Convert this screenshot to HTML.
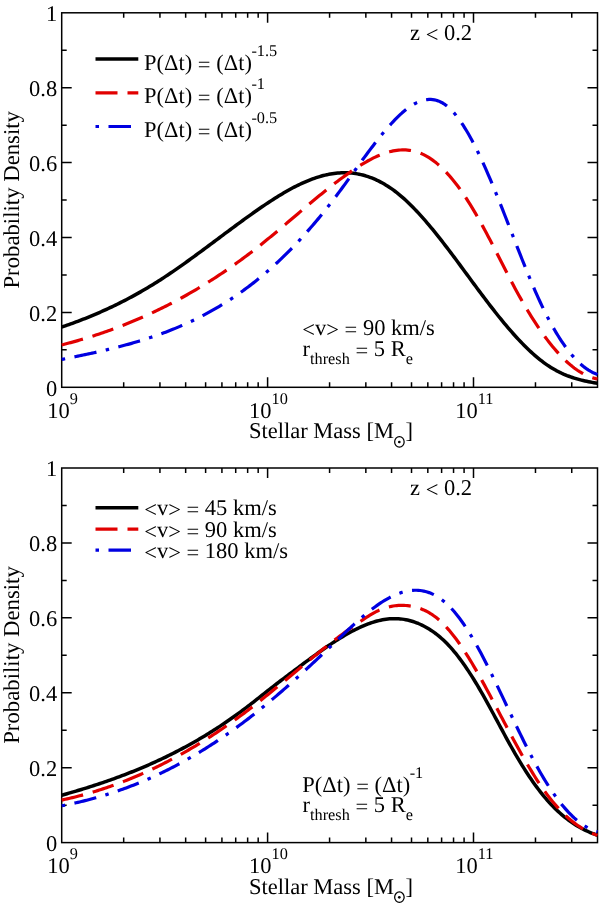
<!DOCTYPE html>
<html><head><meta charset="utf-8"><style>
html,body{margin:0;padding:0;background:#fff;width:600px;height:906px;overflow:hidden}
svg{display:block;will-change:transform}
text{font-family:"Liberation Serif", serif;fill:#000;text-rendering:geometricPrecision}
.sh{baseline-shift:-2.3px}
</style></head><body>
<svg width="600" height="906" viewBox="0 0 600 906">
<rect x="61.7" y="12.8" width="535.80" height="374.50" fill="none" stroke="#000" stroke-width="1.5"/>
<path d="M61.7,349.85h5 M597.5,349.85h-5 M61.7,312.40h10 M597.5,312.40h-10 M61.7,274.95h5 M597.5,274.95h-5 M61.7,237.50h10 M597.5,237.50h-10 M61.7,200.05h5 M597.5,200.05h-5 M61.7,162.60h10 M597.5,162.60h-10 M61.7,125.15h5 M597.5,125.15h-5 M61.7,87.70h10 M597.5,87.70h-10 M61.7,50.25h5 M597.5,50.25h-5 M123.68,387.3v-5 M123.68,12.8v5 M159.94,387.3v-5 M159.94,12.8v5 M185.66,387.3v-5 M185.66,12.8v5 M205.62,387.3v-5 M205.62,12.8v5 M221.92,387.3v-5 M221.92,12.8v5 M235.71,387.3v-5 M235.71,12.8v5 M247.65,387.3v-5 M247.65,12.8v5 M258.18,387.3v-5 M258.18,12.8v5 M267.60,387.3v-10 M267.60,12.8v10 M329.58,387.3v-5 M329.58,12.8v5 M365.84,387.3v-5 M365.84,12.8v5 M391.56,387.3v-5 M391.56,12.8v5 M411.52,387.3v-5 M411.52,12.8v5 M427.82,387.3v-5 M427.82,12.8v5 M441.61,387.3v-5 M441.61,12.8v5 M453.55,387.3v-5 M453.55,12.8v5 M464.08,387.3v-5 M464.08,12.8v5 M473.50,387.3v-10 M473.50,12.8v10 M535.48,387.3v-5 M535.48,12.8v5 M571.74,387.3v-5 M571.74,12.8v5" stroke="#000" stroke-width="1.5" fill="none"/>
<text x="57.2" y="395.70" text-anchor="end" font-size="22.5">0</text>
<text x="57.2" y="320.80" text-anchor="end" font-size="22.5">0.2</text>
<text x="57.2" y="245.90" text-anchor="end" font-size="22.5">0.4</text>
<text x="57.2" y="171.00" text-anchor="end" font-size="22.5">0.6</text>
<text x="57.2" y="96.10" text-anchor="end" font-size="22.5">0.8</text>
<text x="57.2" y="21.20" text-anchor="end" font-size="22.5">1</text>
<text x="62.50" y="417.50" text-anchor="middle" font-size="22.5">10<tspan dy="-13.5" font-size="16.3">9</tspan></text>
<text x="268.40" y="417.50" text-anchor="middle" font-size="22.5">10<tspan dy="-13.5" font-size="16.3">10</tspan></text>
<text x="474.30" y="417.50" text-anchor="middle" font-size="22.5">10<tspan dy="-13.5" font-size="16.3">11</tspan></text>
<text x="249" y="438.30" font-size="22.5">Stellar Mass [M</text>
<text x="405.6" y="438.30" font-size="22.5">]</text>
<ellipse cx="399.4" cy="441.90" rx="4.75" ry="5.25" fill="none" stroke="#000" stroke-width="1.25"/>
<circle cx="399.3" cy="442.00" r="1.35" fill="#000"/>
<text transform="translate(19.2,199.80) rotate(-90)" text-anchor="middle" font-size="22.75">Probability Density</text>
<text x="410" y="40.00" font-size="22.5">z <tspan class="sh">&lt;</tspan> 0.2</text>
<rect x="61.7" y="468.0" width="535.80" height="374.60" fill="none" stroke="#000" stroke-width="1.5"/>
<path d="M61.7,805.14h5 M597.5,805.14h-5 M61.7,767.68h10 M597.5,767.68h-10 M61.7,730.22h5 M597.5,730.22h-5 M61.7,692.76h10 M597.5,692.76h-10 M61.7,655.30h5 M597.5,655.30h-5 M61.7,617.84h10 M597.5,617.84h-10 M61.7,580.38h5 M597.5,580.38h-5 M61.7,542.92h10 M597.5,542.92h-10 M61.7,505.46h5 M597.5,505.46h-5 M123.68,842.6v-5 M123.68,468.0v5 M159.94,842.6v-5 M159.94,468.0v5 M185.66,842.6v-5 M185.66,468.0v5 M205.62,842.6v-5 M205.62,468.0v5 M221.92,842.6v-5 M221.92,468.0v5 M235.71,842.6v-5 M235.71,468.0v5 M247.65,842.6v-5 M247.65,468.0v5 M258.18,842.6v-5 M258.18,468.0v5 M267.60,842.6v-10 M267.60,468.0v10 M329.58,842.6v-5 M329.58,468.0v5 M365.84,842.6v-5 M365.84,468.0v5 M391.56,842.6v-5 M391.56,468.0v5 M411.52,842.6v-5 M411.52,468.0v5 M427.82,842.6v-5 M427.82,468.0v5 M441.61,842.6v-5 M441.61,468.0v5 M453.55,842.6v-5 M453.55,468.0v5 M464.08,842.6v-5 M464.08,468.0v5 M473.50,842.6v-10 M473.50,468.0v10 M535.48,842.6v-5 M535.48,468.0v5 M571.74,842.6v-5 M571.74,468.0v5" stroke="#000" stroke-width="1.5" fill="none"/>
<text x="57.2" y="851.00" text-anchor="end" font-size="22.5">0</text>
<text x="57.2" y="776.08" text-anchor="end" font-size="22.5">0.2</text>
<text x="57.2" y="701.16" text-anchor="end" font-size="22.5">0.4</text>
<text x="57.2" y="626.24" text-anchor="end" font-size="22.5">0.6</text>
<text x="57.2" y="551.32" text-anchor="end" font-size="22.5">0.8</text>
<text x="57.2" y="476.40" text-anchor="end" font-size="22.5">1</text>
<text x="62.50" y="872.80" text-anchor="middle" font-size="22.5">10<tspan dy="-13.5" font-size="16.3">9</tspan></text>
<text x="268.40" y="872.80" text-anchor="middle" font-size="22.5">10<tspan dy="-13.5" font-size="16.3">10</tspan></text>
<text x="474.30" y="872.80" text-anchor="middle" font-size="22.5">10<tspan dy="-13.5" font-size="16.3">11</tspan></text>
<text x="249" y="893.60" font-size="22.5">Stellar Mass [M</text>
<text x="405.6" y="893.60" font-size="22.5">]</text>
<ellipse cx="399.4" cy="897.20" rx="4.75" ry="5.25" fill="none" stroke="#000" stroke-width="1.25"/>
<circle cx="399.3" cy="897.30" r="1.35" fill="#000"/>
<text transform="translate(19.2,655.00) rotate(-90)" text-anchor="middle" font-size="22.75">Probability Density</text>
<text x="410" y="495.20" font-size="22.5">z <tspan class="sh">&lt;</tspan> 0.2</text>
<path d="M61.70,327.07 L63.49,326.46 L65.28,325.84 L67.08,325.22 L68.87,324.59 L70.66,323.95 L72.45,323.30 L74.24,322.64 L76.04,321.98 L77.83,321.31 L79.62,320.62 L81.41,319.93 L83.20,319.24 L85.00,318.53 L86.79,317.81 L88.58,317.09 L90.37,316.36 L92.16,315.61 L93.96,314.86 L95.75,314.10 L97.54,313.33 L99.33,312.55 L101.12,311.76 L102.92,310.97 L104.71,310.16 L106.50,309.34 L108.29,308.51 L110.08,307.68 L111.88,306.83 L113.67,305.97 L115.46,305.11 L117.25,304.23 L119.04,303.34 L120.84,302.44 L122.63,301.53 L124.42,300.62 L126.21,299.69 L128.00,298.75 L129.79,297.80 L131.59,296.84 L133.38,295.86 L135.17,294.88 L136.96,293.89 L138.75,292.88 L140.55,291.86 L142.34,290.84 L144.13,289.80 L145.92,288.74 L147.71,287.68 L149.51,286.61 L151.30,285.52 L153.09,284.42 L154.88,283.32 L156.67,282.19 L158.47,281.06 L160.26,279.91 L162.05,278.76 L163.84,277.59 L165.63,276.41 L167.43,275.22 L169.22,274.02 L171.01,272.81 L172.80,271.59 L174.59,270.36 L176.39,269.12 L178.18,267.87 L179.97,266.62 L181.76,265.36 L183.55,264.09 L185.35,262.81 L187.14,261.53 L188.93,260.24 L190.72,258.95 L192.51,257.64 L194.31,256.34 L196.10,255.03 L197.89,253.71 L199.68,252.40 L201.47,251.07 L203.27,249.75 L205.06,248.42 L206.85,247.09 L208.64,245.75 L210.43,244.42 L212.23,243.08 L214.02,241.74 L215.81,240.41 L217.60,239.07 L219.39,237.73 L221.19,236.39 L222.98,235.05 L224.77,233.72 L226.56,232.38 L228.35,231.05 L230.15,229.72 L231.94,228.39 L233.73,227.07 L235.52,225.74 L237.31,224.42 L239.11,223.11 L240.90,221.80 L242.69,220.50 L244.48,219.20 L246.27,217.90 L248.07,216.61 L249.86,215.33 L251.65,214.06 L253.44,212.79 L255.23,211.53 L257.03,210.27 L258.82,209.03 L260.61,207.79 L262.40,206.56 L264.19,205.35 L265.98,204.14 L267.78,202.95 L269.57,201.76 L271.36,200.59 L273.15,199.44 L274.94,198.30 L276.74,197.17 L278.53,196.06 L280.32,194.96 L282.11,193.89 L283.90,192.83 L285.70,191.79 L287.49,190.77 L289.28,189.77 L291.07,188.79 L292.86,187.83 L294.66,186.89 L296.45,185.98 L298.24,185.09 L300.03,184.23 L301.82,183.39 L303.62,182.58 L305.41,181.79 L307.20,181.03 L308.99,180.30 L310.78,179.60 L312.58,178.93 L314.37,178.29 L316.16,177.68 L317.95,177.10 L319.74,176.56 L321.54,176.04 L323.33,175.56 L325.12,175.12 L326.91,174.71 L328.70,174.34 L330.50,174.01 L332.29,173.71 L334.08,173.45 L335.87,173.23 L337.66,173.05 L339.46,172.91 L341.25,172.81 L343.04,172.76 L344.83,172.74 L346.62,172.77 L348.42,172.85 L350.21,172.97 L352.00,173.13 L353.79,173.34 L355.58,173.59 L357.38,173.89 L359.17,174.24 L360.96,174.63 L362.75,175.07 L364.54,175.55 L366.34,176.09 L368.13,176.67 L369.92,177.29 L371.71,177.97 L373.50,178.69 L375.30,179.47 L377.09,180.29 L378.88,181.16 L380.67,182.08 L382.46,183.05 L384.26,184.07 L386.05,185.14 L387.84,186.26 L389.63,187.44 L391.42,188.66 L393.22,189.94 L395.01,191.26 L396.80,192.64 L398.59,194.07 L400.38,195.56 L402.17,197.09 L403.97,198.67 L405.76,200.30 L407.55,201.97 L409.34,203.69 L411.13,205.45 L412.93,207.26 L414.72,209.10 L416.51,210.98 L418.30,212.90 L420.09,214.86 L421.89,216.85 L423.68,218.88 L425.47,220.93 L427.26,223.02 L429.05,225.14 L430.85,227.29 L432.64,229.46 L434.43,231.66 L436.22,233.89 L438.01,236.13 L439.81,238.40 L441.60,240.69 L443.39,243.00 L445.18,245.33 L446.97,247.67 L448.77,250.03 L450.56,252.40 L452.35,254.78 L454.14,257.17 L455.93,259.58 L457.73,261.99 L459.52,264.41 L461.31,266.84 L463.10,269.27 L464.89,271.70 L466.69,274.13 L468.48,276.57 L470.27,279.00 L472.06,281.43 L473.85,283.86 L475.65,286.29 L477.44,288.70 L479.23,291.11 L481.02,293.51 L482.81,295.90 L484.61,298.28 L486.40,300.65 L488.19,303.00 L489.98,305.33 L491.77,307.65 L493.57,309.95 L495.36,312.23 L497.15,314.49 L498.94,316.73 L500.73,318.95 L502.53,321.14 L504.32,323.31 L506.11,325.46 L507.90,327.57 L509.69,329.66 L511.49,331.72 L513.28,333.75 L515.07,335.75 L516.86,337.71 L518.65,339.65 L520.45,341.54 L522.24,343.41 L524.03,345.23 L525.82,347.02 L527.61,348.77 L529.41,350.48 L531.20,352.15 L532.99,353.77 L534.78,355.35 L536.57,356.89 L538.36,358.38 L540.16,359.83 L541.95,361.23 L543.74,362.58 L545.53,363.88 L547.32,365.13 L549.12,366.33 L550.91,367.47 L552.70,368.56 L554.49,369.60 L556.28,370.59 L558.08,371.53 L559.87,372.43 L561.66,373.28 L563.45,374.09 L565.24,374.85 L567.04,375.58 L568.83,376.26 L570.62,376.91 L572.41,377.52 L574.20,378.10 L576.00,378.65 L577.79,379.16 L579.58,379.65 L581.37,380.11 L583.16,380.54 L584.96,380.95 L586.75,381.33 L588.54,381.70 L590.33,382.04 L592.12,382.36 L593.92,382.67 L595.71,382.96 L597.50,383.24" fill="none" stroke="#000" stroke-width="3.5" stroke-linejoin="round"/>
<path d="M61.70,344.94 L63.49,344.48 L65.28,344.02 L67.08,343.55 L68.87,343.07 L70.66,342.59 L72.45,342.10 L74.24,341.60 L76.04,341.10 L77.83,340.59 L79.62,340.07 L81.41,339.55 L83.20,339.02 L85.00,338.48 L86.79,337.93 L88.58,337.38 L90.37,336.82 L92.16,336.25 L93.96,335.67 L95.75,335.09 L97.54,334.50 L99.33,333.91 L101.12,333.30 L102.92,332.69 L104.71,332.07 L106.50,331.44 L108.29,330.81 L110.08,330.17 L111.88,329.52 L113.67,328.86 L115.46,328.19 L117.25,327.52 L119.04,326.84 L120.84,326.15 L122.63,325.45 L124.42,324.75 L126.21,324.03 L128.00,323.31 L129.79,322.58 L131.59,321.84 L133.38,321.10 L135.17,320.35 L136.96,319.58 L138.75,318.81 L140.55,318.03 L142.34,317.25 L144.13,316.45 L145.92,315.65 L147.71,314.84 L149.51,314.02 L151.30,313.19 L153.09,312.35 L154.88,311.50 L156.67,310.65 L158.47,309.78 L160.26,308.91 L162.05,308.03 L163.84,307.14 L165.63,306.24 L167.43,305.33 L169.22,304.42 L171.01,303.49 L172.80,302.56 L174.59,301.61 L176.39,300.66 L178.18,299.70 L179.97,298.73 L181.76,297.75 L183.55,296.76 L185.35,295.76 L187.14,294.75 L188.93,293.73 L190.72,292.70 L192.51,291.67 L194.31,290.62 L196.10,289.57 L197.89,288.50 L199.68,287.43 L201.47,286.34 L203.27,285.25 L205.06,284.14 L206.85,283.03 L208.64,281.91 L210.43,280.77 L212.23,279.63 L214.02,278.48 L215.81,277.32 L217.60,276.14 L219.39,274.96 L221.19,273.77 L222.98,272.56 L224.77,271.35 L226.56,270.13 L228.35,268.90 L230.15,267.65 L231.94,266.40 L233.73,265.13 L235.52,263.86 L237.31,262.57 L239.11,261.28 L240.90,259.97 L242.69,258.66 L244.48,257.33 L246.27,255.99 L248.07,254.64 L249.86,253.28 L251.65,251.91 L253.44,250.53 L255.23,249.14 L257.03,247.74 L258.82,246.33 L260.61,244.90 L262.40,243.47 L264.19,242.02 L265.98,240.57 L267.78,239.11 L269.57,237.63 L271.36,236.15 L273.15,234.67 L274.94,233.17 L276.74,231.67 L278.53,230.17 L280.32,228.66 L282.11,227.14 L283.90,225.63 L285.70,224.10 L287.49,222.58 L289.28,221.05 L291.07,219.53 L292.86,218.00 L294.66,216.47 L296.45,214.94 L298.24,213.41 L300.03,211.88 L301.82,210.36 L303.62,208.84 L305.41,207.32 L307.20,205.80 L308.99,204.29 L310.78,202.79 L312.58,201.29 L314.37,199.79 L316.16,198.31 L317.95,196.83 L319.74,195.35 L321.54,193.89 L323.33,192.43 L325.12,190.99 L326.91,189.55 L328.70,188.13 L330.50,186.71 L332.29,185.31 L334.08,183.92 L335.87,182.54 L337.66,181.18 L339.46,179.83 L341.25,178.50 L343.04,177.18 L344.83,175.88 L346.62,174.59 L348.42,173.32 L350.21,172.07 L352.00,170.83 L353.79,169.62 L355.58,168.42 L357.38,167.25 L359.17,166.10 L360.96,164.98 L362.75,163.88 L364.54,162.81 L366.34,161.76 L368.13,160.76 L369.92,159.78 L371.71,158.84 L373.50,157.94 L375.30,157.07 L377.09,156.25 L378.88,155.47 L380.67,154.73 L382.46,154.04 L384.26,153.39 L386.05,152.79 L387.84,152.25 L389.63,151.76 L391.42,151.32 L393.22,150.93 L395.01,150.61 L396.80,150.34 L398.59,150.14 L400.38,150.00 L402.17,149.92 L403.97,149.91 L405.76,149.97 L407.55,150.10 L409.34,150.29 L411.13,150.57 L412.93,150.91 L414.72,151.34 L416.51,151.84 L418.30,152.42 L420.09,153.09 L421.89,153.83 L423.68,154.67 L425.47,155.59 L427.26,156.59 L429.05,157.68 L430.85,158.85 L432.64,160.10 L434.43,161.44 L436.22,162.86 L438.01,164.36 L439.81,165.95 L441.60,167.61 L443.39,169.35 L445.18,171.17 L446.97,173.07 L448.77,175.05 L450.56,177.11 L452.35,179.24 L454.14,181.45 L455.93,183.73 L457.73,186.09 L459.52,188.53 L461.31,191.04 L463.10,193.62 L464.89,196.27 L466.69,199.00 L468.48,201.80 L470.27,204.67 L472.06,207.60 L473.85,210.59 L475.65,213.64 L477.44,216.75 L479.23,219.91 L481.02,223.12 L482.81,226.38 L484.61,229.68 L486.40,233.02 L488.19,236.39 L489.98,239.80 L491.77,243.24 L493.57,246.71 L495.36,250.20 L497.15,253.71 L498.94,257.23 L500.73,260.75 L502.53,264.28 L504.32,267.79 L506.11,271.30 L507.90,274.78 L509.69,278.24 L511.49,281.66 L513.28,285.05 L515.07,288.39 L516.86,291.68 L518.65,294.93 L520.45,298.14 L522.24,301.29 L524.03,304.39 L525.82,307.45 L527.61,310.45 L529.41,313.40 L531.20,316.30 L532.99,319.15 L534.78,321.94 L536.57,324.68 L538.36,327.36 L540.16,329.99 L541.95,332.55 L543.74,335.06 L545.53,337.51 L547.32,339.90 L549.12,342.23 L550.91,344.49 L552.70,346.70 L554.49,348.84 L556.28,350.91 L558.08,352.92 L559.87,354.87 L561.66,356.75 L563.45,358.56 L565.24,360.30 L567.04,361.97 L568.83,363.57 L570.62,365.10 L572.41,366.56 L574.20,367.94 L576.00,369.26 L577.79,370.49 L579.58,371.66 L581.37,372.74 L583.16,373.75 L584.96,374.68 L586.75,375.54 L588.54,376.31 L590.33,377.00 L592.12,377.61 L593.92,378.14 L595.71,378.59 L597.50,378.95" fill="none" stroke="rgb(225,0,0)" stroke-width="3.2" stroke-dasharray="22 10" stroke-dashoffset="0" stroke-linejoin="round"/>
<path d="M61.70,359.41 L63.49,359.06 L65.28,358.70 L67.08,358.34 L68.87,357.97 L70.66,357.61 L72.45,357.25 L74.24,356.88 L76.04,356.52 L77.83,356.15 L79.62,355.78 L81.41,355.40 L83.20,355.03 L85.00,354.65 L86.79,354.27 L88.58,353.88 L90.37,353.50 L92.16,353.11 L93.96,352.71 L95.75,352.32 L97.54,351.91 L99.33,351.51 L101.12,351.10 L102.92,350.69 L104.71,350.27 L106.50,349.84 L108.29,349.42 L110.08,348.98 L111.88,348.55 L113.67,348.10 L115.46,347.65 L117.25,347.20 L119.04,346.74 L120.84,346.27 L122.63,345.80 L124.42,345.32 L126.21,344.83 L128.00,344.34 L129.79,343.84 L131.59,343.34 L133.38,342.82 L135.17,342.30 L136.96,341.77 L138.75,341.24 L140.55,340.69 L142.34,340.14 L144.13,339.58 L145.92,339.01 L147.71,338.43 L149.51,337.85 L151.30,337.25 L153.09,336.65 L154.88,336.03 L156.67,335.41 L158.47,334.78 L160.26,334.13 L162.05,333.48 L163.84,332.82 L165.63,332.14 L167.43,331.46 L169.22,330.76 L171.01,330.06 L172.80,329.34 L174.59,328.61 L176.39,327.87 L178.18,327.12 L179.97,326.36 L181.76,325.59 L183.55,324.80 L185.35,324.00 L187.14,323.19 L188.93,322.37 L190.72,321.53 L192.51,320.68 L194.31,319.82 L196.10,318.94 L197.89,318.05 L199.68,317.15 L201.47,316.23 L203.27,315.30 L205.06,314.36 L206.85,313.40 L208.64,312.43 L210.43,311.44 L212.23,310.44 L214.02,309.42 L215.81,308.38 L217.60,307.34 L219.39,306.27 L221.19,305.19 L222.98,304.10 L224.77,302.99 L226.56,301.86 L228.35,300.71 L230.15,299.55 L231.94,298.38 L233.73,297.18 L235.52,295.97 L237.31,294.74 L239.11,293.50 L240.90,292.23 L242.69,290.95 L244.48,289.65 L246.27,288.33 L248.07,287.00 L249.86,285.65 L251.65,284.27 L253.44,282.88 L255.23,281.47 L257.03,280.04 L258.82,278.59 L260.61,277.13 L262.40,275.64 L264.19,274.13 L265.98,272.60 L267.78,271.05 L269.57,269.49 L271.36,267.90 L273.15,266.29 L274.94,264.66 L276.74,263.01 L278.53,261.33 L280.32,259.64 L282.11,257.93 L283.90,256.19 L285.70,254.43 L287.49,252.65 L289.28,250.85 L291.07,249.03 L292.86,247.19 L294.66,245.33 L296.45,243.44 L298.24,241.53 L300.03,239.60 L301.82,237.65 L303.62,235.68 L305.41,233.69 L307.20,231.67 L308.99,229.63 L310.78,227.57 L312.58,225.49 L314.37,223.39 L316.16,221.27 L317.95,219.12 L319.74,216.95 L321.54,214.76 L323.33,212.55 L325.12,210.32 L326.91,208.06 L328.70,205.78 L330.50,203.48 L332.29,201.16 L334.08,198.81 L335.87,196.45 L337.66,194.06 L339.46,191.65 L341.25,189.22 L343.04,186.78 L344.83,184.32 L346.62,181.86 L348.42,179.38 L350.21,176.90 L352.00,174.42 L353.79,171.93 L355.58,169.45 L357.38,166.97 L359.17,164.49 L360.96,162.02 L362.75,159.56 L364.54,157.12 L366.34,154.69 L368.13,152.27 L369.92,149.88 L371.71,147.50 L373.50,145.16 L375.30,142.83 L377.09,140.54 L378.88,138.28 L380.67,136.05 L382.46,133.85 L384.26,131.70 L386.05,129.58 L387.84,127.51 L389.63,125.48 L391.42,123.50 L393.22,121.57 L395.01,119.70 L396.80,117.88 L398.59,116.13 L400.38,114.44 L402.17,112.82 L403.97,111.27 L405.76,109.80 L407.55,108.41 L409.34,107.11 L411.13,105.89 L412.93,104.77 L414.72,103.74 L416.51,102.82 L418.30,102.00 L420.09,101.28 L421.89,100.68 L423.68,100.19 L425.47,99.82 L427.26,99.57 L429.05,99.45 L430.85,99.46 L432.64,99.60 L434.43,99.88 L436.22,100.31 L438.01,100.88 L439.81,101.59 L441.60,102.47 L443.39,103.49 L445.18,104.68 L446.97,106.04 L448.77,107.56 L450.56,109.24 L452.35,111.08 L454.14,113.07 L455.93,115.22 L457.73,117.51 L459.52,119.94 L461.31,122.51 L463.10,125.21 L464.89,128.04 L466.69,130.99 L468.48,134.06 L470.27,137.25 L472.06,140.55 L473.85,143.96 L475.65,147.46 L477.44,151.07 L479.23,154.77 L481.02,158.56 L482.81,162.43 L484.61,166.39 L486.40,170.42 L488.19,174.52 L489.98,178.70 L491.77,182.93 L493.57,187.23 L495.36,191.57 L497.15,195.97 L498.94,200.42 L500.73,204.90 L502.53,209.42 L504.32,213.97 L506.11,218.54 L507.90,223.12 L509.69,227.72 L511.49,232.32 L513.28,236.92 L515.07,241.52 L516.86,246.10 L518.65,250.67 L520.45,255.21 L522.24,259.72 L524.03,264.20 L525.82,268.64 L527.61,273.03 L529.41,277.37 L531.20,281.65 L532.99,285.87 L534.78,290.02 L536.57,294.09 L538.36,298.09 L540.16,302.00 L541.95,305.81 L543.74,309.53 L545.53,313.16 L547.32,316.68 L549.12,320.11 L550.91,323.44 L552.70,326.67 L554.49,329.80 L556.28,332.84 L558.08,335.77 L559.87,338.60 L561.66,341.34 L563.45,343.97 L565.24,346.50 L567.04,348.93 L568.83,351.26 L570.62,353.49 L572.41,355.62 L574.20,357.64 L576.00,359.57 L577.79,361.38 L579.58,363.10 L581.37,364.71 L583.16,366.22 L584.96,367.62 L586.75,368.92 L588.54,370.12 L590.33,371.21 L592.12,372.19 L593.92,373.07 L595.71,373.84 L597.50,374.51" fill="none" stroke="rgb(0,0,225)" stroke-width="3.2" stroke-dasharray="3.5 9.5 22.5 9.5" stroke-dashoffset="0" stroke-linejoin="round"/>
<path d="M61.70,795.22 L63.49,794.72 L65.28,794.21 L67.08,793.70 L68.87,793.18 L70.66,792.67 L72.45,792.14 L74.24,791.62 L76.04,791.09 L77.83,790.55 L79.62,790.01 L81.41,789.47 L83.20,788.92 L85.00,788.36 L86.79,787.80 L88.58,787.24 L90.37,786.67 L92.16,786.10 L93.96,785.52 L95.75,784.94 L97.54,784.35 L99.33,783.75 L101.12,783.15 L102.92,782.54 L104.71,781.93 L106.50,781.31 L108.29,780.69 L110.08,780.06 L111.88,779.43 L113.67,778.78 L115.46,778.14 L117.25,777.48 L119.04,776.82 L120.84,776.15 L122.63,775.48 L124.42,774.80 L126.21,774.11 L128.00,773.41 L129.79,772.71 L131.59,772.00 L133.38,771.29 L135.17,770.56 L136.96,769.83 L138.75,769.09 L140.55,768.35 L142.34,767.59 L144.13,766.83 L145.92,766.06 L147.71,765.28 L149.51,764.50 L151.30,763.70 L153.09,762.90 L154.88,762.09 L156.67,761.27 L158.47,760.45 L160.26,759.61 L162.05,758.77 L163.84,757.91 L165.63,757.05 L167.43,756.18 L169.22,755.30 L171.01,754.41 L172.80,753.51 L174.59,752.60 L176.39,751.68 L178.18,750.76 L179.97,749.82 L181.76,748.87 L183.55,747.92 L185.35,746.95 L187.14,745.98 L188.93,744.99 L190.72,743.99 L192.51,742.99 L194.31,741.97 L196.10,740.94 L197.89,739.90 L199.68,738.85 L201.47,737.79 L203.27,736.72 L205.06,735.64 L206.85,734.55 L208.64,733.45 L210.43,732.33 L212.23,731.21 L214.02,730.07 L215.81,728.92 L217.60,727.76 L219.39,726.59 L221.19,725.40 L222.98,724.21 L224.77,723.00 L226.56,721.78 L228.35,720.55 L230.15,719.30 L231.94,718.05 L233.73,716.78 L235.52,715.50 L237.31,714.20 L239.11,712.90 L240.90,711.58 L242.69,710.24 L244.48,708.90 L246.27,707.54 L248.07,706.17 L249.86,704.80 L251.65,703.41 L253.44,702.01 L255.23,700.61 L257.03,699.21 L258.82,697.80 L260.61,696.38 L262.40,694.97 L264.19,693.56 L265.98,692.14 L267.78,690.73 L269.57,689.32 L271.36,687.92 L273.15,686.52 L274.94,685.12 L276.74,683.74 L278.53,682.36 L280.32,681.00 L282.11,679.63 L283.90,678.28 L285.70,676.93 L287.49,675.58 L289.28,674.24 L291.07,672.90 L292.86,671.55 L294.66,670.21 L296.45,668.87 L298.24,667.53 L300.03,666.19 L301.82,664.85 L303.62,663.52 L305.41,662.18 L307.20,660.86 L308.99,659.53 L310.78,658.22 L312.58,656.91 L314.37,655.61 L316.16,654.31 L317.95,653.03 L319.74,651.75 L321.54,650.49 L323.33,649.23 L325.12,647.99 L326.91,646.76 L328.70,645.55 L330.50,644.35 L332.29,643.16 L334.08,641.99 L335.87,640.84 L337.66,639.70 L339.46,638.58 L341.25,637.48 L343.04,636.40 L344.83,635.34 L346.62,634.30 L348.42,633.28 L350.21,632.29 L352.00,631.32 L353.79,630.38 L355.58,629.46 L357.38,628.58 L359.17,627.72 L360.96,626.90 L362.75,626.10 L364.54,625.34 L366.34,624.62 L368.13,623.93 L369.92,623.27 L371.71,622.66 L373.50,622.08 L375.30,621.54 L377.09,621.05 L378.88,620.60 L380.67,620.19 L382.46,619.82 L384.26,619.51 L386.05,619.24 L387.84,619.02 L389.63,618.85 L391.42,618.73 L393.22,618.66 L395.01,618.64 L396.80,618.68 L398.59,618.77 L400.38,618.92 L402.17,619.12 L403.97,619.38 L405.76,619.70 L407.55,620.07 L409.34,620.49 L411.13,620.98 L412.93,621.52 L414.72,622.12 L416.51,622.78 L418.30,623.49 L420.09,624.27 L421.89,625.10 L423.68,626.00 L425.47,626.95 L427.26,627.97 L429.05,629.05 L430.85,630.19 L432.64,631.39 L434.43,632.66 L436.22,634.00 L438.01,635.42 L439.81,636.90 L441.60,638.45 L443.39,640.08 L445.18,641.79 L446.97,643.58 L448.77,645.45 L450.56,647.39 L452.35,649.43 L454.14,651.54 L455.93,653.73 L457.73,656.00 L459.52,658.34 L461.31,660.75 L463.10,663.24 L464.89,665.79 L466.69,668.42 L468.48,671.10 L470.27,673.86 L472.06,676.67 L473.85,679.54 L475.65,682.47 L477.44,685.45 L479.23,688.49 L481.02,691.58 L482.81,694.72 L484.61,697.90 L486.40,701.12 L488.19,704.38 L489.98,707.65 L491.77,710.96 L493.57,714.27 L495.36,717.60 L497.15,720.94 L498.94,724.28 L500.73,727.61 L502.53,730.94 L504.32,734.25 L506.11,737.54 L507.90,740.81 L509.69,744.05 L511.49,747.25 L513.28,750.41 L515.07,753.53 L516.86,756.61 L518.65,759.64 L520.45,762.62 L522.24,765.55 L524.03,768.43 L525.82,771.25 L527.61,774.00 L529.41,776.70 L531.20,779.34 L532.99,781.92 L534.78,784.44 L536.57,786.89 L538.36,789.29 L540.16,791.62 L541.95,793.89 L543.74,796.09 L545.53,798.23 L547.32,800.30 L549.12,802.31 L550.91,804.26 L552.70,806.14 L554.49,807.95 L556.28,809.71 L558.08,811.40 L559.87,813.03 L561.66,814.60 L563.45,816.11 L565.24,817.57 L567.04,818.96 L568.83,820.31 L570.62,821.60 L572.41,822.83 L574.20,824.02 L576.00,825.15 L577.79,826.24 L579.58,827.27 L581.37,828.26 L583.16,829.20 L584.96,830.10 L586.75,830.96 L588.54,831.77 L590.33,832.54 L592.12,833.27 L593.92,833.96 L595.71,834.61 L597.50,835.23" fill="none" stroke="#000" stroke-width="3.5" stroke-linejoin="round"/>
<path d="M61.70,800.07 L63.49,799.68 L65.28,799.29 L67.08,798.89 L68.87,798.47 L70.66,798.05 L72.45,797.62 L74.24,797.18 L76.04,796.73 L77.83,796.27 L79.62,795.80 L81.41,795.33 L83.20,794.84 L85.00,794.34 L86.79,793.84 L88.58,793.33 L90.37,792.80 L92.16,792.27 L93.96,791.73 L95.75,791.18 L97.54,790.62 L99.33,790.05 L101.12,789.47 L102.92,788.89 L104.71,788.29 L106.50,787.69 L108.29,787.07 L110.08,786.45 L111.88,785.81 L113.67,785.17 L115.46,784.52 L117.25,783.86 L119.04,783.19 L120.84,782.51 L122.63,781.82 L124.42,781.12 L126.21,780.41 L128.00,779.70 L129.79,778.97 L131.59,778.24 L133.38,777.49 L135.17,776.74 L136.96,775.97 L138.75,775.20 L140.55,774.42 L142.34,773.63 L144.13,772.83 L145.92,772.02 L147.71,771.20 L149.51,770.37 L151.30,769.53 L153.09,768.68 L154.88,767.83 L156.67,766.96 L158.47,766.09 L160.26,765.20 L162.05,764.31 L163.84,763.40 L165.63,762.49 L167.43,761.57 L169.22,760.63 L171.01,759.69 L172.80,758.74 L174.59,757.78 L176.39,756.81 L178.18,755.83 L179.97,754.84 L181.76,753.84 L183.55,752.83 L185.35,751.82 L187.14,750.79 L188.93,749.75 L190.72,748.71 L192.51,747.65 L194.31,746.58 L196.10,745.51 L197.89,744.42 L199.68,743.33 L201.47,742.23 L203.27,741.11 L205.06,739.99 L206.85,738.86 L208.64,737.72 L210.43,736.57 L212.23,735.41 L214.02,734.23 L215.81,733.05 L217.60,731.86 L219.39,730.66 L221.19,729.46 L222.98,728.24 L224.77,727.01 L226.56,725.77 L228.35,724.52 L230.15,723.27 L231.94,722.00 L233.73,720.72 L235.52,719.43 L237.31,718.14 L239.11,716.83 L240.90,715.52 L242.69,714.19 L244.48,712.86 L246.27,711.51 L248.07,710.16 L249.86,708.79 L251.65,707.42 L253.44,706.04 L255.23,704.64 L257.03,703.24 L258.82,701.83 L260.61,700.41 L262.40,698.98 L264.19,697.55 L265.98,696.10 L267.78,694.65 L269.57,693.20 L271.36,691.74 L273.15,690.27 L274.94,688.80 L276.74,687.33 L278.53,685.85 L280.32,684.36 L282.11,682.88 L283.90,681.39 L285.70,679.90 L287.49,678.41 L289.28,676.91 L291.07,675.42 L292.86,673.92 L294.66,672.43 L296.45,670.93 L298.24,669.44 L300.03,667.95 L301.82,666.45 L303.62,664.97 L305.41,663.48 L307.20,662.00 L308.99,660.52 L310.78,659.04 L312.58,657.57 L314.37,656.11 L316.16,654.65 L317.95,653.19 L319.74,651.74 L321.54,650.30 L323.33,648.87 L325.12,647.44 L326.91,646.02 L328.70,644.61 L330.50,643.21 L332.29,641.82 L334.08,640.43 L335.87,639.06 L337.66,637.70 L339.46,636.35 L341.25,635.01 L343.04,633.68 L344.83,632.37 L346.62,631.07 L348.42,629.77 L350.21,628.49 L352.00,627.23 L353.79,625.97 L355.58,624.72 L357.38,623.49 L359.17,622.26 L360.96,621.04 L362.75,619.83 L364.54,618.63 L366.34,617.45 L368.13,616.30 L369.92,615.18 L371.71,614.10 L373.50,613.06 L375.30,612.09 L377.09,611.18 L378.88,610.33 L380.67,609.56 L382.46,608.86 L384.26,608.22 L386.05,607.65 L387.84,607.14 L389.63,606.70 L391.42,606.32 L393.22,606.01 L395.01,605.76 L396.80,605.56 L398.59,605.43 L400.38,605.36 L402.17,605.34 L403.97,605.38 L405.76,605.48 L407.55,605.63 L409.34,605.84 L411.13,606.11 L412.93,606.45 L414.72,606.85 L416.51,607.32 L418.30,607.86 L420.09,608.47 L421.89,609.16 L423.68,609.92 L425.47,610.76 L427.26,611.68 L429.05,612.69 L430.85,613.78 L432.64,614.96 L434.43,616.23 L436.22,617.60 L438.01,619.05 L439.81,620.61 L441.60,622.26 L443.39,624.02 L445.18,625.86 L446.97,627.80 L448.77,629.83 L450.56,631.95 L452.35,634.15 L454.14,636.44 L455.93,638.80 L457.73,641.24 L459.52,643.76 L461.31,646.35 L463.10,649.01 L464.89,651.74 L466.69,654.54 L468.48,657.40 L470.27,660.31 L472.06,663.29 L473.85,666.31 L475.65,669.39 L477.44,672.51 L479.23,675.67 L481.02,678.87 L482.81,682.11 L484.61,685.38 L486.40,688.68 L488.19,692.00 L489.98,695.34 L491.77,698.71 L493.57,702.09 L495.36,705.48 L497.15,708.87 L498.94,712.28 L500.73,715.68 L502.53,719.08 L504.32,722.48 L506.11,725.87 L507.90,729.24 L509.69,732.60 L511.49,735.94 L513.28,739.26 L515.07,742.55 L516.86,745.82 L518.65,749.06 L520.45,752.27 L522.24,755.44 L524.03,758.58 L525.82,761.67 L527.61,764.73 L529.41,767.74 L531.20,770.70 L532.99,773.62 L534.78,776.48 L536.57,779.29 L538.36,782.04 L540.16,784.73 L541.95,787.36 L543.74,789.92 L545.53,792.41 L547.32,794.84 L549.12,797.19 L550.91,799.47 L552.70,801.68 L554.49,803.83 L556.28,805.90 L558.08,807.90 L559.87,809.83 L561.66,811.70 L563.45,813.50 L565.24,815.23 L567.04,816.89 L568.83,818.49 L570.62,820.02 L572.41,821.48 L574.20,822.88 L576.00,824.21 L577.79,825.48 L579.58,826.69 L581.37,827.83 L583.16,828.91 L584.96,829.92 L586.75,830.88 L588.54,831.77 L590.33,832.60 L592.12,833.37 L593.92,834.08 L595.71,834.73 L597.50,835.31" fill="none" stroke="rgb(225,0,0)" stroke-width="3.2" stroke-dasharray="22 10" stroke-dashoffset="0" stroke-linejoin="round"/>
<path d="M61.70,805.79 L63.49,805.45 L65.28,805.09 L67.08,804.74 L68.87,804.37 L70.66,803.99 L72.45,803.61 L74.24,803.21 L76.04,802.81 L77.83,802.40 L79.62,801.98 L81.41,801.55 L83.20,801.12 L85.00,800.67 L86.79,800.22 L88.58,799.75 L90.37,799.28 L92.16,798.80 L93.96,798.31 L95.75,797.81 L97.54,797.30 L99.33,796.78 L101.12,796.26 L102.92,795.72 L104.71,795.17 L106.50,794.62 L108.29,794.05 L110.08,793.48 L111.88,792.90 L113.67,792.31 L115.46,791.70 L117.25,791.09 L119.04,790.47 L120.84,789.84 L122.63,789.20 L124.42,788.55 L126.21,787.89 L128.00,787.22 L129.79,786.54 L131.59,785.86 L133.38,785.16 L135.17,784.45 L136.96,783.73 L138.75,783.00 L140.55,782.26 L142.34,781.52 L144.13,780.76 L145.92,779.99 L147.71,779.21 L149.51,778.42 L151.30,777.62 L153.09,776.82 L154.88,776.00 L156.67,775.17 L158.47,774.33 L160.26,773.48 L162.05,772.62 L163.84,771.74 L165.63,770.86 L167.43,769.97 L169.22,769.07 L171.01,768.15 L172.80,767.23 L174.59,766.30 L176.39,765.35 L178.18,764.39 L179.97,763.43 L181.76,762.45 L183.55,761.46 L185.35,760.46 L187.14,759.45 L188.93,758.43 L190.72,757.40 L192.51,756.36 L194.31,755.31 L196.10,754.25 L197.89,753.17 L199.68,752.09 L201.47,750.99 L203.27,749.89 L205.06,748.77 L206.85,747.65 L208.64,746.51 L210.43,745.36 L212.23,744.20 L214.02,743.04 L215.81,741.86 L217.60,740.67 L219.39,739.47 L221.19,738.26 L222.98,737.03 L224.77,735.80 L226.56,734.56 L228.35,733.31 L230.15,732.05 L231.94,730.77 L233.73,729.49 L235.52,728.20 L237.31,726.89 L239.11,725.58 L240.90,724.25 L242.69,722.92 L244.48,721.57 L246.27,720.21 L248.07,718.85 L249.86,717.47 L251.65,716.08 L253.44,714.69 L255.23,713.28 L257.03,711.86 L258.82,710.43 L260.61,708.99 L262.40,707.54 L264.19,706.09 L265.98,704.62 L267.78,703.14 L269.57,701.65 L271.36,700.15 L273.15,698.64 L274.94,697.13 L276.74,695.60 L278.53,694.07 L280.32,692.52 L282.11,690.97 L283.90,689.41 L285.70,687.84 L287.49,686.27 L289.28,684.68 L291.07,683.09 L292.86,681.49 L294.66,679.88 L296.45,678.27 L298.24,676.65 L300.03,675.02 L301.82,673.39 L303.62,671.75 L305.41,670.10 L307.20,668.44 L308.99,666.79 L310.78,665.12 L312.58,663.45 L314.37,661.77 L316.16,660.09 L317.95,658.41 L319.74,656.72 L321.54,655.02 L323.33,653.33 L325.12,651.63 L326.91,649.93 L328.70,648.23 L330.50,646.52 L332.29,644.82 L334.08,643.11 L335.87,641.41 L337.66,639.70 L339.46,637.99 L341.25,636.29 L343.04,634.59 L344.83,632.90 L346.62,631.21 L348.42,629.53 L350.21,627.86 L352.00,626.21 L353.79,624.57 L355.58,622.95 L357.38,621.34 L359.17,619.75 L360.96,618.19 L362.75,616.65 L364.54,615.13 L366.34,613.64 L368.13,612.19 L369.92,610.76 L371.71,609.36 L373.50,608.00 L375.30,606.67 L377.09,605.38 L378.88,604.13 L380.67,602.93 L382.46,601.76 L384.26,600.64 L386.05,599.57 L387.84,598.55 L389.63,597.57 L391.42,596.65 L393.22,595.78 L395.01,594.97 L396.80,594.22 L398.59,593.52 L400.38,592.89 L402.17,592.32 L403.97,591.82 L405.76,591.38 L407.55,591.01 L409.34,590.71 L411.13,590.48 L412.93,590.33 L414.72,590.25 L416.51,590.25 L418.30,590.33 L420.09,590.50 L421.89,590.74 L423.68,591.08 L425.47,591.50 L427.26,592.01 L429.05,592.61 L430.85,593.30 L432.64,594.09 L434.43,594.98 L436.22,595.96 L438.01,597.05 L439.81,598.24 L441.60,599.53 L443.39,600.93 L445.18,602.44 L446.97,604.05 L448.77,605.77 L450.56,607.60 L452.35,609.53 L454.14,611.56 L455.93,613.70 L457.73,615.93 L459.52,618.27 L461.31,620.71 L463.10,623.24 L464.89,625.87 L466.69,628.60 L468.48,631.41 L470.27,634.32 L472.06,637.31 L473.85,640.38 L475.65,643.52 L477.44,646.74 L479.23,650.02 L481.02,653.37 L482.81,656.77 L484.61,660.23 L486.40,663.74 L488.19,667.30 L489.98,670.89 L491.77,674.53 L493.57,678.19 L495.36,681.89 L497.15,685.61 L498.94,689.35 L500.73,693.11 L502.53,696.88 L504.32,700.66 L506.11,704.45 L507.90,708.23 L509.69,712.01 L511.49,715.78 L513.28,719.54 L515.07,723.29 L516.86,727.02 L518.65,730.73 L520.45,734.41 L522.24,738.06 L524.03,741.68 L525.82,745.26 L527.61,748.81 L529.41,752.31 L531.20,755.76 L532.99,759.16 L534.78,762.51 L536.57,765.80 L538.36,769.03 L540.16,772.19 L541.95,775.29 L543.74,778.31 L545.53,781.27 L547.32,784.14 L549.12,786.94 L550.91,789.67 L552.70,792.32 L554.49,794.89 L556.28,797.38 L558.08,799.80 L559.87,802.14 L561.66,804.39 L563.45,806.57 L565.24,808.66 L567.04,810.68 L568.83,812.61 L570.62,814.45 L572.41,816.22 L574.20,817.90 L576.00,819.49 L577.79,821.00 L579.58,822.42 L581.37,823.75 L583.16,825.00 L584.96,826.15 L586.75,827.22 L588.54,828.20 L590.33,829.08 L592.12,829.88 L593.92,830.58 L595.71,831.19 L597.50,831.70" fill="none" stroke="rgb(0,0,225)" stroke-width="3.2" stroke-dasharray="3.5 9.5 22.5 9.5" stroke-dashoffset="0" stroke-linejoin="round"/>
<path d="M95.5,59.0 H138.3" stroke="#000" stroke-width="3.5" fill="none"/>
<path d="M95.5,92.8 H138.3" stroke="rgb(225,0,0)" stroke-width="3.2" fill="none" stroke-dasharray="22 10"/>
<path d="M95.5,126.5 H138.3" stroke="rgb(0,0,225)" stroke-width="3.2" fill="none" stroke-dasharray="3.5 9.5 22.5 9.5"/>
<text x="144" y="69.5" font-size="22.5">P(&#916;t) <tspan class="sh">=</tspan> (&#916;t)<tspan dx="-0.5" dy="-14" font-size="16.3">-1.5</tspan></text>
<text x="144" y="103.2" font-size="22.5">P(&#916;t) <tspan class="sh">=</tspan> (&#916;t)<tspan dx="-0.5" dy="-14" font-size="16.3">-1</tspan></text>
<text x="144" y="137.0" font-size="22.5">P(&#916;t) <tspan class="sh">=</tspan> (&#916;t)<tspan dx="-0.5" dy="-14" font-size="16.3">-0.5</tspan></text>
<text x="302.3" y="334.6" font-size="22.5"><tspan class="sh">&lt;</tspan>v<tspan class="sh">&gt;</tspan> <tspan class="sh">=</tspan> 90 km/s</text>
<text x="302.5" y="355.5" font-size="22.5">r<tspan dy="8.5" font-size="16.3">thresh</tspan><tspan dy="-8.5"> </tspan><tspan class="sh">=</tspan><tspan> 5 R</tspan><tspan dy="8.5" font-size="16.3">e</tspan></text>
<path d="M95.5,507.8 H138.3" stroke="#000" stroke-width="3.5" fill="none"/>
<path d="M95.5,529.2 H138.3" stroke="rgb(225,0,0)" stroke-width="3.2" fill="none" stroke-dasharray="22 10"/>
<path d="M95.5,550.2 H138.3" stroke="rgb(0,0,225)" stroke-width="3.2" fill="none" stroke-dasharray="3.5 9.5 22.5 9.5"/>
<text x="144.2" y="515.3" font-size="22.5"><tspan class="sh">&lt;</tspan>v<tspan class="sh">&gt;</tspan> <tspan class="sh">=</tspan> 45 km/s</text>
<text x="144.2" y="536.6" font-size="22.5"><tspan class="sh">&lt;</tspan>v<tspan class="sh">&gt;</tspan> <tspan class="sh">=</tspan> 90 km/s</text>
<text x="144.2" y="557.6" font-size="22.5"><tspan class="sh">&lt;</tspan>v<tspan class="sh">&gt;</tspan> <tspan class="sh">=</tspan> 180 km/s</text>
<text x="302.3" y="791.7" font-size="22.5">P(&#916;t) <tspan class="sh">=</tspan> (&#916;t)<tspan dx="-0.5" dy="-14" font-size="16.3">-1</tspan></text>
<text x="302.5" y="811.7" font-size="22.5">r<tspan dy="8.5" font-size="16.3">thresh</tspan><tspan dy="-8.5"> </tspan><tspan class="sh">=</tspan><tspan> 5 R</tspan><tspan dy="8.5" font-size="16.3">e</tspan></text>
</svg>
</body></html>
